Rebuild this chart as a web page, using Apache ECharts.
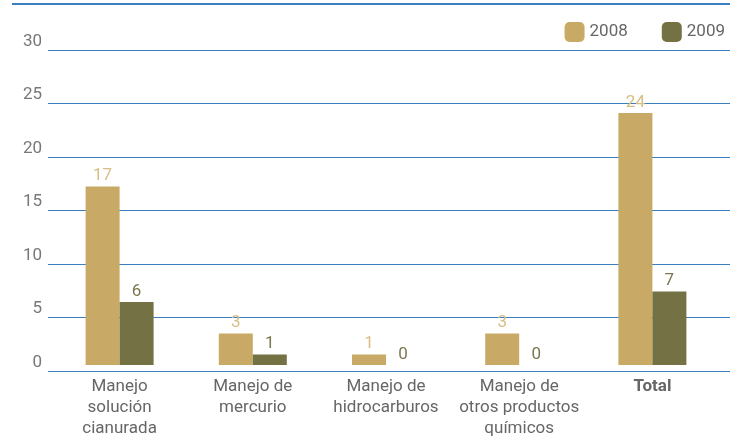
<!DOCTYPE html>
<html><head><meta charset="utf-8">
<script src="https://cdn.jsdelivr.net/npm/echarts@6/dist/echarts.min.js"></script>
<style>html,body{margin:0;padding:0;background:#fff}#c{width:730px;height:439px}</style>
</head><body><div id="c"></div>
<script>
const categories = ['Manejo\nsolución\ncianurada', 'Manejo de\nmercurio', 'Manejo de\nhidrocarburos', 'Manejo de\notros productos\nquímicos', 'Total'];
const values2008 = [17, 3, 1, 3, 24];
const values2009 = [6, 1, 0, 0, 7];
const seriesNames = ['2008', '2009'];
const yTicks = {min: 0, max: 30, interval: 5};

const FONT = '"Roboto", sans-serif';
const BLUE = '#3b7fc0';
const C08 = '#c8aa66';
const C09 = '#747245';

const chart = echarts.init(document.getElementById('c'));
chart.setOption({
  animation: false,
  legend: {
    right: 0, top: 17, itemWidth: 20, itemHeight: 20, itemGap: 34,
    textStyle: {fontFamily: FONT, fontSize: 17, color: '#666'},
    data: seriesNames
  },
  grid: [
    {left: 53, right: 11, top: 50, bottom: 68},
    {left: 48, right: 0, top: 50, bottom: 68}
  ],
  graphic: [{type: 'line', shape: {x1: 12, y1: 4, x2: 730, y2: 4}, style: {stroke: BLUE, lineWidth: 2}}],
  xAxis: [
    {type: 'category', gridIndex: 0, data: categories,
     axisLine: {show: false}, axisTick: {show: false},
     axisLabel: {interval: 0, margin: 11, lineHeight: 21, fontFamily: FONT, fontSize: 17, color: '#666',
       formatter: v => v === 'Total' ? '{b|Total}' : v,
       rich: {b: {fontWeight: 'bold', fontFamily: FONT, fontSize: 17, color: '#666'}}}},
    {type: 'value', gridIndex: 1, show: false, min: 0, max: 1}
  ],
  yAxis: [
    {type: 'value', gridIndex: 0, min: yTicks.min, max: yTicks.max, interval: yTicks.interval,
     axisLine: {show: false}, axisTick: {show: false}, splitLine: {show: false},
     axisLabel: {show: false}},
    {type: 'value', gridIndex: 1, min: yTicks.min, max: yTicks.max, interval: yTicks.interval,
     axisLine: {show: false}, axisTick: {show: false},
     splitLine: {show: true, lineStyle: {color: BLUE, width: 1}},
     axisLabel: {margin: 6, fontFamily: FONT, fontSize: 17, color: '#777', verticalAlign: 'bottom'}}
  ],
  series: [
    {name: seriesNames[0], type: 'bar', xAxisIndex: 0, yAxisIndex: 0, data: values2008,
     barWidth: 34, barGap: '0%', itemStyle: {color: C08},
     label: {show: true, position: 'top', distance: 2, fontFamily: FONT, fontSize: 17, color: '#d8bd85'}},
    {name: seriesNames[1], type: 'bar', xAxisIndex: 0, yAxisIndex: 0, data: values2009,
     barWidth: 34, barGap: '0%', itemStyle: {color: C09},
     label: {show: true, position: 'top', distance: 2, fontFamily: FONT, fontSize: 17, color: '#7a784e'}}
  ]
});
</script></body></html>
